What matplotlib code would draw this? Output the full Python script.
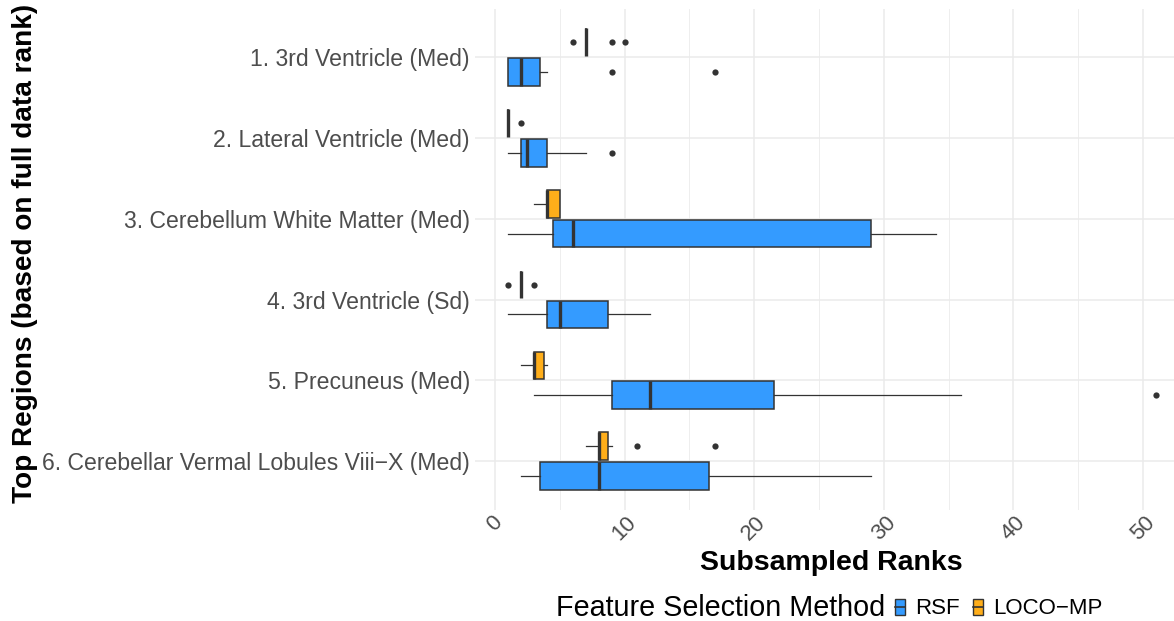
import numpy as np
import matplotlib.pyplot as plt
from matplotlib.patches import Patch
from matplotlib.lines import Line2D

plt.rcParams['font.family'] = ['Liberation Sans', 'DejaVu Sans']

regions = ["1. 3rd Ventricle (Med)",
           "2. Lateral Ventricle (Med)",
           "3. Cerebellum White Matter (Med)",
           "4. 3rd Ventricle (Sd)",
           "5. Precuneus (Med)",
           "6. Cerebellar Vermal Lobules Viii\u2212X (Med)"]

# five-number summaries per region, RSF
rsf_whislo = [1, 1, 1, 1, 3, 2]
rsf_q1 = [1, 2, 4.5, 4, 9, 3.5]
rsf_med = [2, 2.5, 6, 5, 12, 8]
rsf_q3 = [3.5, 4, 29, 8.75, 21.5, 16.5]
rsf_whishi = [4, 7, 34, 12, 36, 29]
rsf_fliers = [[9, 17], [9], [], [], [51], []]

# five-number summaries per region, LOCO-MP
loco_whislo = [7, 1, 3, 2, 2, 7]
loco_q1 = [7, 1, 4, 2, 3, 8]
loco_med = [7, 1, 4, 2, 3, 8]
loco_q3 = [7, 1, 5, 2, 3.75, 8.75]
loco_whishi = [7, 1, 5, 2, 4, 9]
loco_fliers = [[6, 9, 10], [2], [], [1, 3], [], [11, 17]]

x_ticks = [0, 10, 20, 30, 40, 50]

blue = '#349BFF'
orange = '#FFAE1A'
edge = '#333333'


def make_stats(lo, q1, med, q3, hi, fl):
    return [dict(whislo=lo[i], q1=q1[i], med=med[i], q3=q3[i], whishi=hi[i],
                 fliers=np.array(fl[i], dtype=float)) for i in range(len(lo))]


fig = plt.figure(figsize=(11.74, 6.21), dpi=100)
ax = fig.add_axes([0.405, 0.1795, 0.595, 0.8065])

pos = np.arange(1, len(regions) + 1)
off = 0.185
w = 0.34

for stats, color, shift in [
        (make_stats(rsf_whislo, rsf_q1, rsf_med, rsf_q3, rsf_whishi, rsf_fliers), blue, off),
        (make_stats(loco_whislo, loco_q1, loco_med, loco_q3, loco_whishi, loco_fliers), orange, -off)]:
    ax.bxp(stats, positions=pos + shift, widths=w, orientation='horizontal',
           patch_artist=True, showcaps=False,
           boxprops=dict(facecolor=color, edgecolor=edge, linewidth=1.1),
           medianprops=dict(color=edge, linewidth=2.4, solid_capstyle='butt'),
           whiskerprops=dict(color=edge, linewidth=0.9),
           flierprops=dict(marker='o', markerfacecolor=edge, markeredgecolor='none',
                           markersize=4.5),
           manage_ticks=False, zorder=3)

ax.set_xlim(-1.5, 52.4)
ax.set_ylim(len(regions) + 0.6, 0.4)

ax.set_xticks(x_ticks)
ax.set_xticks([5, 15, 25, 35, 45], minor=True)
ax.set_xticklabels([str(t) for t in x_ticks], rotation=45, ha='center', va='top',
                   fontsize=16, color='#4D4D4D')
ax.set_yticks(pos)
ax.set_yticklabels(regions, fontsize=16.6, color='#4D4D4D')
ax.tick_params(axis='both', which='both', length=0)
ax.tick_params(axis='y', pad=4)
ax.tick_params(axis='x', pad=2)

ax.grid(True, which='major', color='#EBEBEB', linewidth=1.1)
ax.grid(True, which='minor', axis='x', color='#EBEBEB', linewidth=0.6)
ax.set_axisbelow(True)
for s in ax.spines.values():
    s.set_visible(False)

ax.set_xlabel('Subsampled Ranks', fontsize=20.5, fontweight='bold', labelpad=4)
ax.xaxis.label.set_x(0.509)
fig.text(25 / 1174, 1 - 253 / 621, 'Top Regions (based on full data rank)', fontsize=20.2,
         fontweight='bold', rotation=90, ha='center', va='center')

# legend along the bottom, title on the left
fig.text(885 / 1174, 1 - 608 / 621, 'Feature Selection Method', fontsize=20.7, ha='right',
         va='center')
handles = [(Patch(facecolor=blue, edgecolor=edge, linewidth=1),
            Line2D([], [], color=edge, linewidth=1.2)),
           (Patch(facecolor=orange, edgecolor=edge, linewidth=1),
            Line2D([], [], color=edge, linewidth=1.2))]
fig.legend(handles, ['RSF', 'LOCO\u2212MP'], loc='center left',
           bbox_to_anchor=(0.7495, 1 - 609 / 621), ncol=2, frameon=False, fontsize=16,
           handlelength=0.45, handleheight=0.75, handletextpad=0.45, columnspacing=0.6,
           borderpad=0.2)

fig.savefig('out.png', dpi=100)
